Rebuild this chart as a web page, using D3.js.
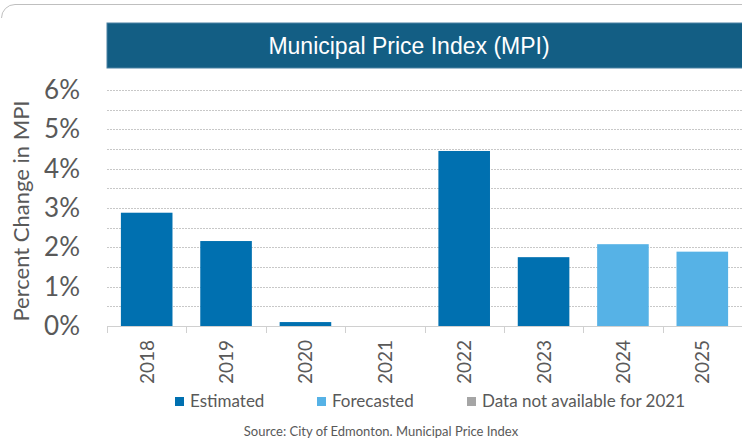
<!DOCTYPE html>
<html>
<head>
<meta charset="utf-8">
<script src="https://cdn.jsdelivr.net/npm/d3@7"></script>
<style>
  body { margin: 0; background: #fff; }
  svg { display: block; }
</style>
</head>
<body>
<div id="chart"></div>
<script>
// values
var years = ["2018", "2019", "2020", "2021", "2022", "2023", "2024", "2025"];
var mpi = [2.88, 2.16, 0.1, null, 4.45, 1.75, 2.08, 1.89];
var kind = ["Estimated", "Estimated", "Estimated", "NA", "Estimated", "Estimated", "Forecasted", "Forecasted"];
var yTicks = [0, 1, 2, 3, 4, 5, 6];
var legendItems = ["Estimated", "Forecasted", "Data not available for 2021"];

var colors = {Estimated: "#0070b0", Forecasted: "#56b2e6", NA: "#a5a5a5"};
var legendColors = ["#0070b0", "#56b2e6", "#a5a5a5"];

var W = 742, H = 440;
var margin = {top: 90, right: 0, bottom: 114, left: 107},
    width = W - margin.left - margin.right,
    height = H - margin.top - margin.bottom;

var font = "Lato, 'Open Sans', sans-serif";

var svg = d3.select("#chart").append("svg")
    .attr("width", W)
    .attr("height", H);

// outer frame: only the top edge and its rounded corner show
svg.append("path")
    .attr("d", "M1.5,18 A13.5,13.5 0 0 1 15,4.5 L" + W + ",4.5")
    .attr("fill", "none")
    .attr("stroke", "#bfbfbf")
    .attr("stroke-width", 1);

// title band
svg.append("rect")
    .attr("x", 107).attr("y", 23)
    .attr("width", W - 107 + 2).attr("height", 45)
    .attr("fill", "#135e84")
    .attr("stroke", "#4d82a3")
    .attr("stroke-width", 1);

svg.append("text")
    .attr("x", 409).attr("y", 54)
    .attr("text-anchor", "middle")
    .attr("fill", "#fff")
    .style("font-family", "'Liberation Sans Narrow', 'Arial Narrow', sans-serif")
    .style("font-size", "23px")
    .text("Municipal Price Index (MPI)");

var x = d3.scaleBand().domain(years).range([0, width]).paddingInner(0.35).paddingOuter(0.175);
var y = d3.scaleLinear().domain([0, 6]).range([height, 0]);

var g = svg.append("g")
    .attr("transform", "translate(" + margin.left + "," + margin.top + ")");

// dotted gridlines every half percent
g.append("g")
    .selectAll("line")
    .data(d3.range(0.5, 6.01, 0.5))
    .enter().append("line")
    .attr("x1", 0).attr("x2", width)
    .attr("y1", function(d) { return Math.round(y(d)) + 0.5; })
    .attr("y2", function(d) { return Math.round(y(d)) + 0.5; })
    .attr("stroke", "#c8c8c8")
    .attr("stroke-dasharray", "2,1");

// bars
g.append("g")
    .selectAll("rect")
    .data(years)
    .enter().append("rect")
    .attr("x", function(d) { return x(d); })
    .attr("width", x.bandwidth())
    .attr("y", function(d, i) { return y(mpi[i] || 0); })
    .attr("height", function(d, i) { return height - y(mpi[i] || 0); })
    .attr("fill", function(d, i) { return colors[kind[i]]; });

// x axis with ticks between categories
var step = x.step();
var xAxis = g.append("g")
    .attr("transform", "translate(0," + height + ")");
xAxis.append("line")
    .attr("x1", 0).attr("x2", width)
    .attr("y1", 0.5).attr("y2", 0.5)
    .attr("stroke", "#d0d0d0");
xAxis.selectAll(".tk")
    .data(d3.range(0, years.length))
    .enter().append("line")
    .attr("class", "tk")
    .attr("x1", function(i) { return Math.round(x(years[i]) - x.paddingInner() * step / 2) + 0.5; })
    .attr("x2", function(i) { return Math.round(x(years[i]) - x.paddingInner() * step / 2) + 0.5; })
    .attr("y1", 0).attr("y2", 7)
    .attr("stroke", "#d0d0d0");

xAxis.selectAll(".lbl")
    .data(years)
    .enter().append("text")
    .attr("class", "lbl")
    .attr("transform", function(d) {
      return "translate(" + (x(d) + x.bandwidth() / 2 + 7) + ",14) rotate(-90)";
    })
    .attr("text-anchor", "end")
    .attr("fill", "#595959")
    .style("font-family", font)
    .style("font-size", "19px")
    .text(function(d) { return d; });

// y axis labels
g.append("g")
    .selectAll("text")
    .data(yTicks)
    .enter().append("text")
    .attr("x", -27)
    .attr("y", function(d) { return y(d) + 9; })
    .attr("text-anchor", "end")
    .attr("fill", "#595959")
    .style("font-family", font)
    .style("font-size", "26px")
    .text(function(d) { return d + "%"; });

svg.append("text")
    .attr("transform", "translate(29," + (margin.top + height / 2 + 3) + ") rotate(-90)")
    .attr("text-anchor", "middle")
    .attr("fill", "#595959")
    .style("font-family", font)
    .style("font-size", "22px")
    .text("Percent Change in MPI");

// legend
var legendX = [175, 317, 467];
var legend = svg.append("g");
legendItems.forEach(function(name, i) {
  legend.append("rect")
      .attr("x", legendX[i]).attr("y", 397)
      .attr("width", 9).attr("height", 9)
      .attr("fill", legendColors[i]);
  legend.append("text")
      .attr("x", legendX[i] + 15).attr("y", 407)
      .attr("fill", "#595959")
      .style("font-family", font)
      .style("font-size", "17px")
      .text(name);
});

svg.append("text")
    .attr("x", 381).attr("y", 436)
    .attr("text-anchor", "middle")
    .attr("fill", "#595959")
    .style("font-family", font)
    .style("font-size", "13px")
    .text("Source: City of Edmonton. Municipal Price Index");
</script>
</body>
</html>
